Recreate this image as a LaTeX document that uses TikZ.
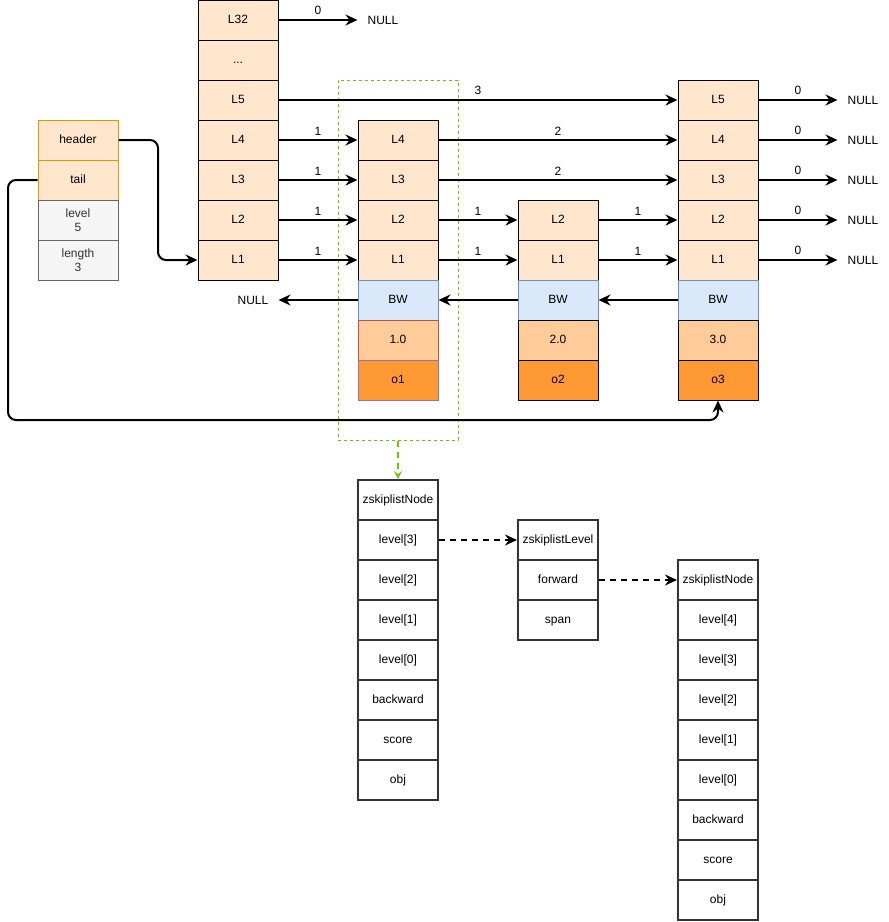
\documentclass[tikz,border=0pt]{standalone}
\usepackage{fontspec}
\setmainfont{Liberation Sans}
\usetikzlibrary{arrows.meta}
\definecolor{peach}{HTML}{FFE6CC}
\definecolor{peachline}{HTML}{D79B00}
\definecolor{greyfill}{HTML}{F5F5F5}
\definecolor{greyline}{HTML}{666666}
\definecolor{bwfill}{HTML}{DAE8FC}
\definecolor{bwline}{HTML}{6C8EBF}
\definecolor{scorefill}{HTML}{FFCC99}
\definecolor{scoreline}{HTML}{B85450}
\definecolor{objfill}{HTML}{FF9933}
\definecolor{objline}{HTML}{9673A6}
\definecolor{grp}{HTML}{66CC00}
\definecolor{structline}{HTML}{333333}
\begin{document}
\begin{tikzpicture}[x=1pt,y=-1pt,
  every node/.style={font=\fontsize{12}{14}\selectfont, inner sep=0pt},
  box/.style={line width=1pt, minimum width=80pt, minimum height=40pt},
  cell/.style={box, draw=black, fill=peach, text height=8.5pt, text depth=2.5pt},
  hdr/.style={cell, draw=peachline},
  info/.style={box, draw=greyline, fill=greyfill, align=center, text=black!80},
  bw/.style={cell, draw=bwline, fill=bwfill},
  score/.style={cell, fill=scorefill},
  obj/.style={cell, fill=objfill},
  field/.style={draw=structline, line width=2pt, minimum width=80pt, minimum height=40pt,
                fill=white, text height=8.5pt, text depth=2.5pt},
  nullnode/.style={inner xsep=10pt},
  ptr/.style={line width=2pt, -{Stealth[length=12pt, width=11pt, inset=4pt]}},
  dptr/.style={ptr, dashed, dash pattern=on 6pt off 5pt},
  span/.style={midway, above=4pt, font=\fontsize{12}{14}\selectfont}]
\useasboundingbox (0,0) rectangle (889,922);

% group outline around the first element
\node[draw=grp, dashed, line width=1pt, dash pattern=on 3pt off 3pt,
      minimum width=120pt, minimum height=360pt] (grpbox) at (398,260) {};

% zskiplist header struct
\node[hdr] (header) at (78,140) {header};
\node[hdr] (tail)   at (78,180) {tail};
\node[info] (level)  at (78,220) {level\\5};
\node[info] (length) at (78,260) {length\\3};

% header node with 32 levels
\node[cell] (h32)   at (238,20)  {L32};
\node[cell] (hdots) at (238,60)  {...};
\node[cell] (h5)    at (238,100) {L5};
\node[cell] (h4)    at (238,140) {L4};
\node[cell] (h3)    at (238,180) {L3};
\node[cell] (h2)    at (238,220) {L2};
\node[cell] (h1)    at (238,260) {L1};

% element o1
\node[cell] (a4) at (398,140) {L4};
\node[cell] (a3) at (398,180) {L3};
\node[cell] (a2) at (398,220) {L2};
\node[cell] (a1) at (398,260) {L1};
\node[bw]   (abw) at (398,300) {BW};
\node[score, draw=scoreline] (asc) at (398,340) {1.0};
\node[obj, draw=objline]     (aobj) at (398,380) {o1};

% element o2
\node[cell] (b2) at (558,220) {L2};
\node[cell] (b1) at (558,260) {L1};
\node[bw]   (bbw) at (558,300) {BW};
\node[score] (bsc) at (558,340) {2.0};
\node[obj]   (bobj) at (558,380) {o2};

% element o3
\node[cell] (c5) at (718,100) {L5};
\node[cell] (c4) at (718,140) {L4};
\node[cell] (c3) at (718,180) {L3};
\node[cell] (c2) at (718,220) {L2};
\node[cell] (c1) at (718,260) {L1};
\node[bw]   (cbw) at (718,300) {BW};
\node[score] (csc) at (718,340) {3.0};
\node[obj]   (cobj) at (718,380) {o3};

% NULL targets
\node[nullnode] (n32) at (383,20) {NULL};
\node[nullnode] (nbw) at (253,300) {NULL};
\foreach \lv/\yy in {5/100,4/140,3/180,2/220,1/260}
  \node[nullnode] (n\lv) at (863,\yy) {NULL};

% header and tail pointers
\coordinate (hbend) at (158,200);
\coordinate (tbend) at (8,420);
\draw[ptr, rounded corners=8pt] (header.east) -| (hbend) |- (h1.west);
\draw[ptr, rounded corners=8pt] (tail.west) -| (tbend) -| (cobj.south);

% forward pointers with spans
\draw[ptr] (h32.east) -- (n32.west) node[span] {0};
\draw[ptr] (h5.east) -- (c5.west) node[span] {3};
\draw[ptr] (h4.east) -- (a4.west) node[span] {1};
\draw[ptr] (h3.east) -- (a3.west) node[span] {1};
\draw[ptr] (h2.east) -- (a2.west) node[span] {1};
\draw[ptr] (h1.east) -- (a1.west) node[span] {1};
\draw[ptr] (a4.east) -- (c4.west) node[span] {2};
\draw[ptr] (a3.east) -- (c3.west) node[span] {2};
\draw[ptr] (a2.east) -- (b2.west) node[span] {1};
\draw[ptr] (a1.east) -- (b1.west) node[span] {1};
\draw[ptr] (b2.east) -- (c2.west) node[span] {1};
\draw[ptr] (b1.east) -- (c1.west) node[span] {1};
\foreach \lv in {5,4,3,2,1}
  \draw[ptr] (c\lv.east) -- (n\lv.west) node[span] {0};

% backward pointers
\draw[ptr] (cbw.west) -- (bbw.east);
\draw[ptr] (bbw.west) -- (abw.east);
\draw[ptr] (abw.west) -- (nbw.east);

% zskiplistNode layout
\node[field] (zn)  at (398,500) {zskiplistNode};
\node[field] (zl3) at (398,540) {level[3]};
\node[field] (zl2) at (398,580) {level[2]};
\node[field] (zl1) at (398,620) {level[1]};
\node[field] (zl0) at (398,660) {level[0]};
\node[field] (zbw) at (398,700) {backward};
\node[field] (zsc) at (398,740) {score};
\node[field] (zob) at (398,780) {obj};

% zskiplistLevel layout
\node[field] (lv)  at (558,540) {zskiplistLevel};
\node[field] (lvf) at (558,580) {forward};
\node[field] (lvs) at (558,620) {span};

% next zskiplistNode
\node[field] (mn)  at (718,580) {zskiplistNode};
\node[field] (ml4) at (718,620) {level[4]};
\node[field] (ml3) at (718,660) {level[3]};
\node[field] (ml2) at (718,700) {level[2]};
\node[field] (ml1) at (718,740) {level[1]};
\node[field] (ml0) at (718,780) {level[0]};
\node[field] (mbw) at (718,820) {backward};
\node[field] (msc) at (718,860) {score};
\node[field] (mob) at (718,900) {obj};

% struct links
\draw[dptr, draw=grp, -{Stealth[length=8pt, width=8pt, inset=3pt]}] (grpbox.south) -- (zn.north);
\draw[dptr] (zl3.east) -- (lv.west);
\draw[dptr] (lvf.east) -- (mn.west);
\end{tikzpicture}
\end{document}
